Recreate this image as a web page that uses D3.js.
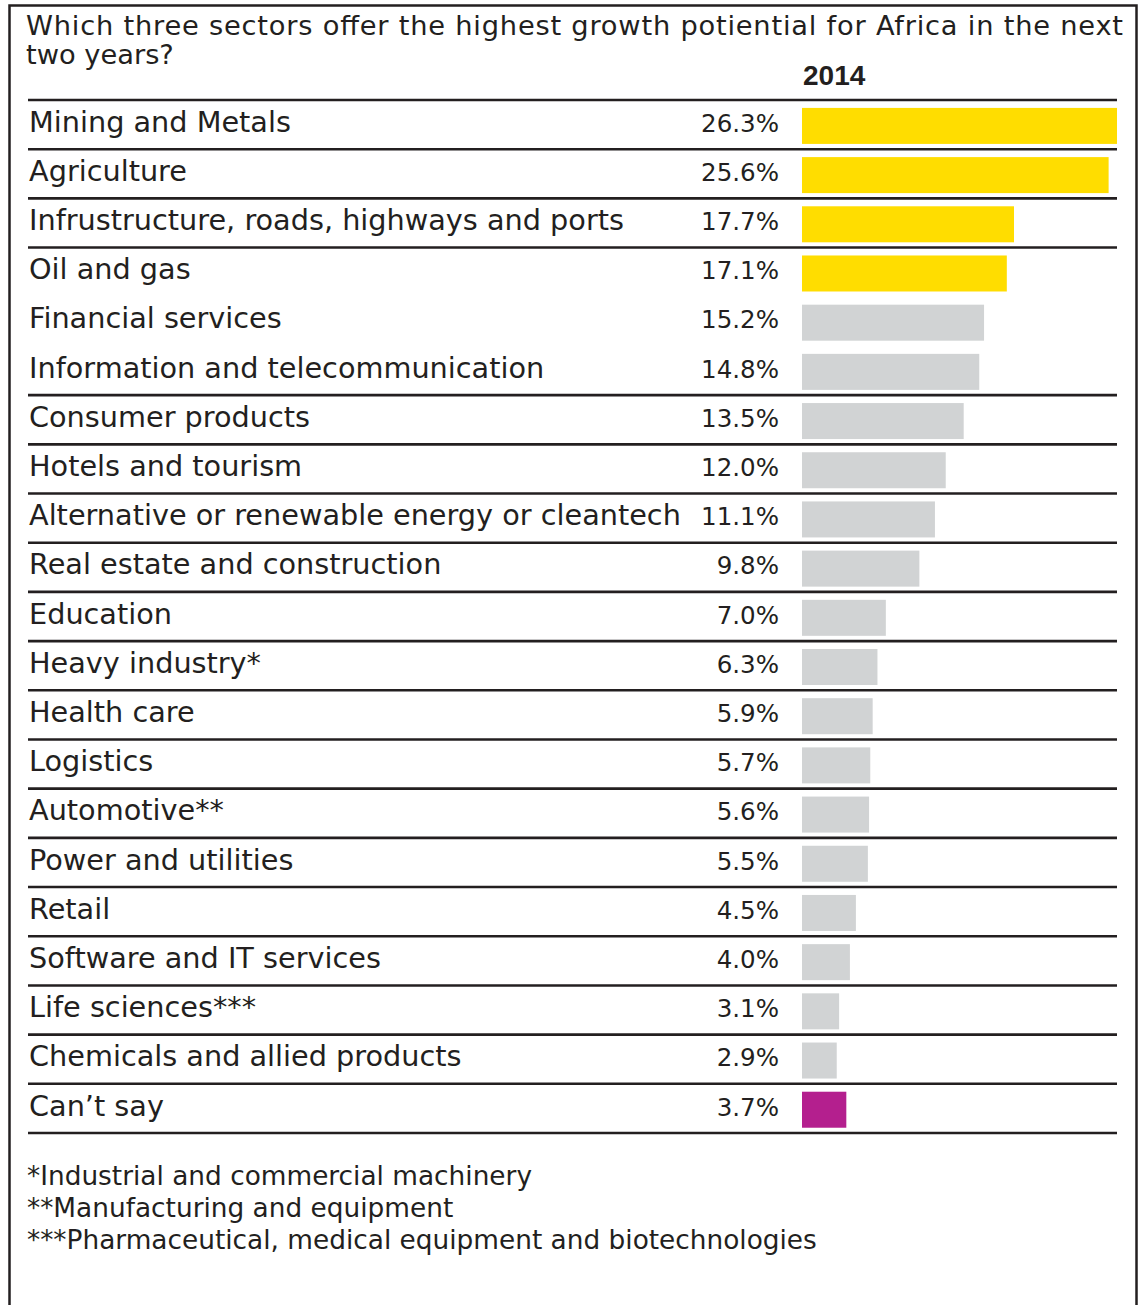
<!DOCTYPE html>
<html>
<head>
<meta charset="utf-8">
<script src="https://cdn.jsdelivr.net/npm/d3@7/dist/d3.min.js"></script>
<style>
  html, body { margin: 0; padding: 0; background: #ffffff; }
  svg { display: block; }
</style>
</head>
<body>
<svg id="chart" width="1143" height="1305"></svg>
<script>
// Survey question, column heading and footnotes
const titleLines = [
  "Which three sectors offer the highest growth potiential for Africa in the next",
  "two years?"
];
const yearLabel = "2014";
const footnotes = [
  "*Industrial and commercial machinery",
  "**Manufacturing and equipment",
  "***Pharmaceutical, medical equipment and biotechnologies"
];

// Sectors and share of respondents (%)
const categories = [
  "Mining and Metals",
  "Agriculture",
  "Infrustructure, roads, highways and ports",
  "Oil and gas",
  "Financial services",
  "Information and telecommunication",
  "Consumer products",
  "Hotels and tourism",
  "Alternative or renewable energy or cleantech",
  "Real estate and construction",
  "Education",
  "Heavy industry*",
  "Health care",
  "Logistics",
  "Automotive**",
  "Power and utilities",
  "Retail",
  "Software and IT services",
  "Life sciences***",
  "Chemicals and allied products",
  "Can\u2019t say"
];
const values = [26.3, 25.6, 17.7, 17.1, 15.2, 14.8, 13.5, 12.0, 11.1, 9.8, 7.0,
                6.3, 5.9, 5.7, 5.6, 5.5, 4.5, 4.0, 3.1, 2.9, 3.7];

// Rows that are grouped without a rule underneath
const noDivider = ["Oil and gas", "Financial services"];
// Number of leading sectors shown in the highlight colour
const topCount = 4;

const data = categories.map((c, i) => ({ category: c, value: values[i], index: i }));

const ink = "#231f20";
const colors = { top: "#ffdd00", other: "#d1d3d4", none: "#b41f8e" };
const font = "'DejaVu Sans', sans-serif";

const svg = d3.select("#chart");

// Outer frame (open at the bottom of the page)
svg.append("rect")
  .attr("x", 9.5).attr("y", 5.5)
  .attr("width", 1127).attr("height", 1340)
  .attr("fill", "none").attr("stroke", ink).attr("stroke-width", 2.5);

// Font size helper: size at which a string reaches a given width
function fitSize(text, width, weight) {
  const t = svg.append("text").attr("font-family", font)
    .attr("font-weight", weight || "normal")
    .attr("font-size", 100).text(text);
  const w = t.node().getComputedTextLength();
  t.remove();
  return 100 * width / w;
}

const labelSize = fitSize("Alternative or renewable energy or cleantech", 652);
const valueSize = fitSize("26.3%", 78);
const titleSize = labelSize * 0.95;
const noteSize = fitSize(footnotes[2], 790);

// Scales
const left = 28, right = 1117;
const y = d3.scaleBand().domain(categories).range([100, 1133]).padding(0);
const yBar = d3.scaleBand().domain(categories).range([100, 1133])
  .paddingInner(0.268).paddingOuter(0.134).align(0.6);
const x = d3.scaleLinear().domain([0, d3.max(values)]).range([802, 1117]);

// Title
const title = svg.append("g").attr("font-family", font)
  .attr("font-size", titleSize).attr("fill", ink);
title.append("text")
  .attr("x", 26).attr("y", 35)
  .attr("textLength", 1097).attr("lengthAdjust", "spacing")
  .text(titleLines[0]);
title.append("text")
  .attr("x", 26).attr("y", 64)
  .text(titleLines[1]);

// Column heading
svg.append("text")
  .attr("x", x(0) + 1).attr("y", 85)
  .attr("font-family", "'Liberation Sans', Arial, sans-serif")
  .attr("font-weight", "bold").attr("font-size", 28).attr("fill", ink)
  .text(yearLabel);

// Row rules
const rules = [{ y: y.range()[0] }].concat(
  data.filter(d => !noDivider.includes(d.category))
      .map(d => ({ y: y(d.category) + y.bandwidth() }))
);
svg.append("g").selectAll("line").data(rules).join("line")
  .attr("x1", left).attr("x2", right)
  .attr("y1", d => d.y).attr("y2", d => d.y)
  .attr("stroke", ink).attr("stroke-width", 2.6);

// Bars
svg.append("g").selectAll("rect").data(data).join("rect")
  .attr("x", x(0))
  .attr("y", d => yBar(d.category))
  .attr("width", d => x(d.value) - x(0))
  .attr("height", yBar.bandwidth())
  .attr("fill", d => d.category === "Can\u2019t say" ? colors.none
                    : d.index < topCount ? colors.top : colors.other);

// Sector labels
svg.append("g").attr("font-family", font).attr("font-size", labelSize).attr("fill", ink)
  .selectAll("text").data(data).join("text")
  .attr("x", 29)
  .attr("y", d => y(d.category) + y.bandwidth() * 0.645)
  .text(d => d.category);

// Value labels
svg.append("g").attr("font-family", font).attr("font-size", valueSize).attr("fill", ink)
  .attr("text-anchor", "end")
  .selectAll("text").data(data).join("text")
  .attr("x", 779)
  .attr("y", d => y(d.category) + y.bandwidth() * 0.645)
  .text(d => d.value.toFixed(1) + "%");

// Footnotes
svg.append("g").attr("font-family", font).attr("font-size", noteSize).attr("fill", ink)
  .selectAll("text").data(footnotes).join("text")
  .attr("x", 27)
  .attr("y", (d, i) => 1185 + i * 32)
  .text(d => d);
</script>
</body>
</html>
